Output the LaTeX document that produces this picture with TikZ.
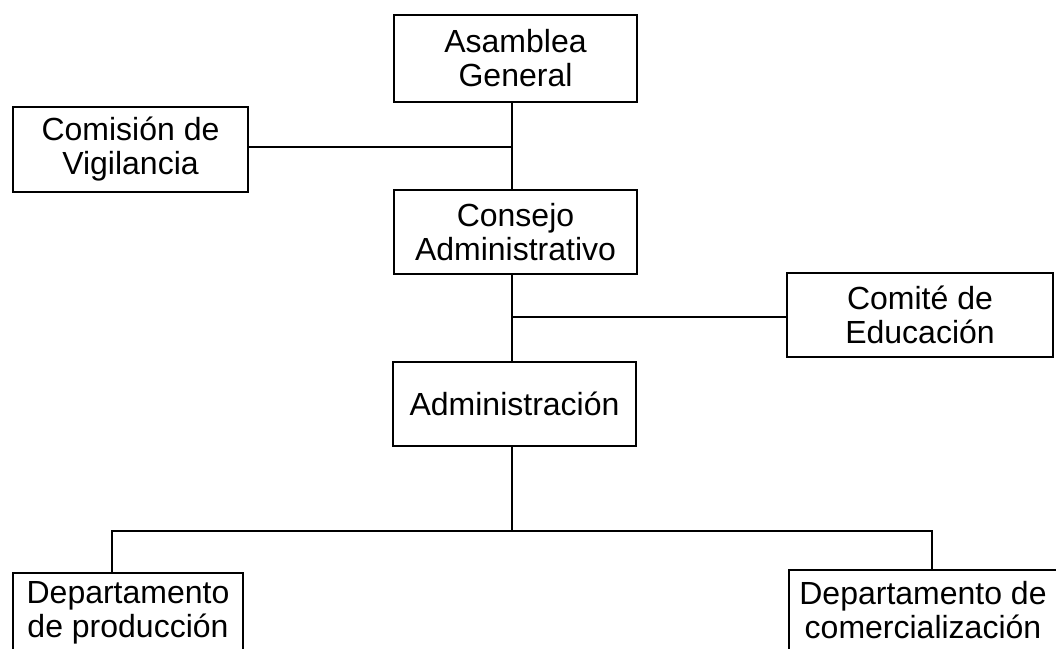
\documentclass[tikz,border=0pt]{standalone}
\usepackage{fontspec}
\setmainfont{Liberation Sans}
\usepackage{tikz}
\usetikzlibrary{positioning,calc}
\tikzset{orgbox/.style={draw=black, line width=2.8pt, align=center, inner sep=0pt,
                        font=\fontsize{32}{34}\selectfont},
         orgline/.style={black, line width=2.8pt}}

\begin{document}
\begin{tikzpicture}[x=1pt,y=-1pt]
\useasboundingbox (0,0) rectangle (1056,648);
\clip (0,0) rectangle (1056,648);

\node[orgbox, minimum width=243, minimum height=87] (asamblea) at (515.5,58.5) {Asamblea\\General};
\node[orgbox, minimum width=235, minimum height=85] (vigilancia) at (130.5,149.5) {Comisión de\\Vigilancia};
\node[orgbox, minimum width=243, minimum height=84] (consejo) at (515.5,232) {Consejo\\Administrativo};
\node[orgbox, minimum width=266, minimum height=84] (educacion) at (920,315) {Comité de\\Educación};
\node[orgbox, minimum width=243, minimum height=84] (admin) at (514.5,404) {Administración};
\node[orgbox, minimum width=230, minimum height=80] (produccion) at (128,613) {Departamento\\de producción};
\node[orgbox, minimum width=268, minimum height=80] (comercial) at (923,610) {Departamento de\\comercialización};

\coordinate (spine) at (512,0);
\coordinate (busl) at (112,531);
\coordinate (busr) at (932,531);

\draw[orgline] (asamblea.south -| spine) -- (consejo.north -| spine);
\draw[orgline] (vigilancia.east |- 0,147) -- (spine |- 0,147);
\draw[orgline] (consejo.south -| spine) -- (admin.north -| spine);
\draw[orgline] (educacion.west |- 0,317) -- (spine |- 0,317);

% bus to the departments
\draw[orgline] (admin.south -| spine) -- (spine |- busl);
\draw[orgline] (produccion.north -| busl) -- (busl) -- (busr) -- (comercial.north -| busr);
\end{tikzpicture}
\end{document}
